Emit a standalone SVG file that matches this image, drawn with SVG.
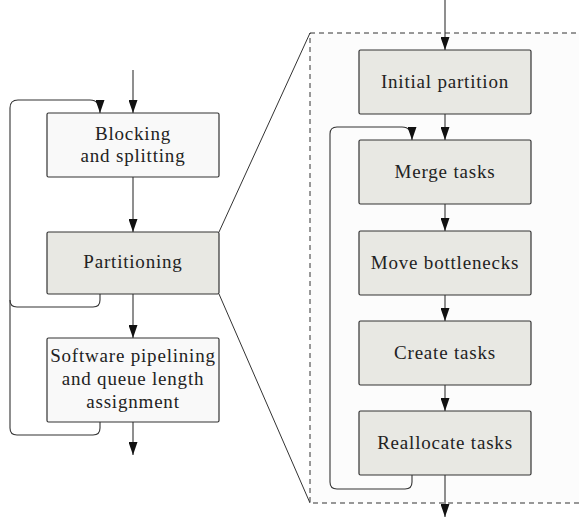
<svg xmlns="http://www.w3.org/2000/svg" width="579" height="519" viewBox="0 0 579 519">
<defs>
<marker id="ah" viewBox="0 -4.5 13 9" refX="13" refY="0" markerWidth="13" markerHeight="9" markerUnits="userSpaceOnUse" orient="auto">
<path d="M0,-4.5 L13,0 L0,4.5 Z" fill="#111"/>
</marker>
<style>
.box{stroke:#333;stroke-width:1.2}
.light{fill:#f9f9f9}
.gray{fill:#e8e8e3}
.t{font-family:"Liberation Serif","Times New Roman",serif;font-size:19px;fill:#222;text-anchor:middle;letter-spacing:0.8px}
.c{fill:none;stroke:#333;stroke-width:1.1}
.a{marker-end:url(#ah)}
</style>
</defs>
<rect width="579" height="519" fill="#ffffff"/>
<g id="zoom-region">
<rect x="310" y="33" width="300" height="470" fill="#fcfcfc" stroke="#333" stroke-width="1" stroke-dasharray="5,4"/>
<line x1="219" y1="232" x2="310" y2="33" stroke="#333" stroke-width="1"/>
<line x1="219" y1="294" x2="310" y2="503" stroke="#333" stroke-width="1"/>
</g>
<g id="connectors">
<line class="c a" x1="133" y1="70" x2="133" y2="113"/>
<line class="c a" x1="133" y1="177" x2="133" y2="232"/>
<line class="c a" x1="133" y1="294" x2="133" y2="338"/>
<line class="c a" x1="133" y1="422" x2="133" y2="455"/>
<path class="c a" d="M100 294 L100 300 Q100 307 93 307 L17 307 Q10 307 10 300 L10 108 Q10 100 18 100 L90 100 Q100 100 100 113"/>
<path class="c" d="M100 422 L100 428 Q100 435 93 435 L17 435 Q10 435 10 428 L10 300"/>
<line class="c a" x1="445" y1="0" x2="445" y2="50"/>
<line class="c a" x1="445" y1="114" x2="445" y2="140"/>
<line class="c a" x1="445" y1="204" x2="445" y2="231"/>
<line class="c a" x1="445" y1="295" x2="445" y2="321"/>
<line class="c a" x1="445" y1="385" x2="445" y2="411"/>
<line class="c a" x1="445" y1="475" x2="445" y2="517"/>
<path class="c a" d="M412 475 L412 482 Q412 489 405 489 L337 489 Q330 489 330 482 L330 134 Q330 127 337 127 L402 127 Q412 127 412 140"/>
</g>
<g id="blocking">
<rect class="box light" x="47" y="113" width="172" height="64" rx="1.5"/>
<text class="t" x="133" y="140">Blocking</text>
<text class="t" x="133" y="162">and splitting</text>
</g>
<g id="partitioning">
<rect class="box gray" x="47" y="232" width="172" height="62" rx="1.5"/>
<text class="t" x="133" y="268">Partitioning</text>
</g>
<g id="software-pipelining">
<rect class="box light" x="47" y="338" width="172" height="84" rx="1.5"/>
<text class="t" x="133" y="362">Software pipelining</text>
<text class="t" x="133" y="385">and queue length</text>
<text class="t" x="133" y="408">assignment</text>
</g>
<g id="initial-partition">
<rect class="box gray" x="359" y="50" width="172" height="64" rx="1.5"/>
<text class="t" x="445" y="88">Initial partition</text>
</g>
<g id="merge-tasks">
<rect class="box gray" x="359" y="140" width="172" height="64" rx="1.5"/>
<text class="t" x="445" y="178">Merge tasks</text>
</g>
<g id="move-bottlenecks">
<rect class="box gray" x="359" y="231" width="172" height="64" rx="1.5"/>
<text class="t" x="445" y="269">Move bottlenecks</text>
</g>
<g id="create-tasks">
<rect class="box gray" x="359" y="321" width="172" height="64" rx="1.5"/>
<text class="t" x="445" y="359">Create tasks</text>
</g>
<g id="reallocate-tasks">
<rect class="box gray" x="359" y="411" width="172" height="64" rx="1.5"/>
<text class="t" x="445" y="449">Reallocate tasks</text>
</g>
</svg>
